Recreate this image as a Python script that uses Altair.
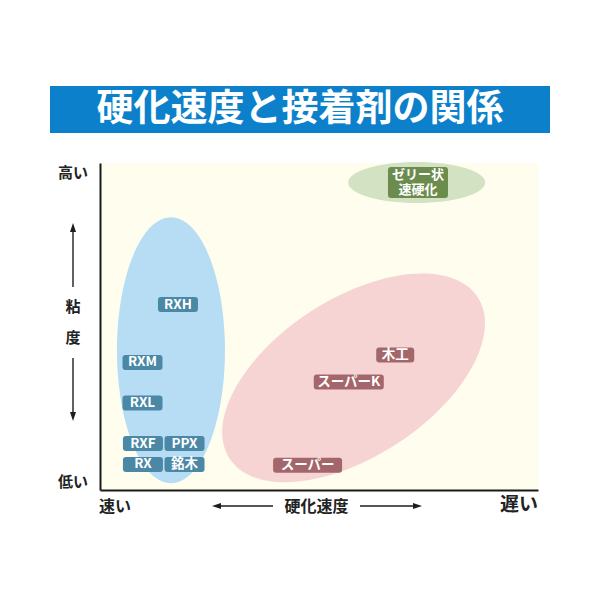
import altair as alt
import pandas as pd

# ---------------- data ----------------
LABELS = ["RXH", "RXM", "RXL", "RXF", "PPX", "RX", "銘木",
          "木工", "スーパーK", "スーパー", "ゼリー状\n速硬化"]
# 硬化速度 (0 = 速い, 100 = 遅い)
SPEED = [17.8, 9.7, 9.7, 9.8, 19.3, 9.8, 19.3, 67.4, 56.8, 47.4, 72.6]
# 粘度 (0 = 低い, 100 = 高い)
VISC = [56.7, 39.0, 26.6, 14.2, 14.2, 7.8, 7.8, 41.3, 33.0, 7.6, 94.0]
GROUP = ["blue"] * 7 + ["pink"] * 3 + ["green"]

GROUP_NAMES = ["blue", "pink", "green"]
GROUP_SPEED = [16.2, 57.9, 72.3]
GROUP_VISC = [42.7, 34.3, 94.0]

TITLE = "硬化速度と接着剤の関係"

# ---------------- styles ----------------
FONT = "Noto Sans CJK JP"
W, H = 438, 327
ELLIPSE_STYLE = {  # rx, ry (px), angle, fill
    "blue": (54, 133, 0, "#b7ddf4"),
    "pink": (148, 79, 327, "#f7d4d4"),
    "green": (68.5, 20.5, 0, "#d2e2c2"),
}
BOX_COLOR = {"blue": "#4a88a6", "pink": "#a3666b", "green": "#6b8c4d"}
BOX_SIZE = {"RXH": (40, 15), "RXM": (40, 15), "RXL": (40, 15), "RXF": (40, 15),
            "PPX": (40, 15), "RX": (40, 15), "銘木": (40, 15), "木工": (38, 15),
            "スーパーK": (70, 15), "スーパー": (69, 15), "ゼリー状\n速硬化": (60, 31)}

df = pd.DataFrame({"label": LABELS, "speed": SPEED, "visc": VISC, "group": GROUP})
gdf = pd.DataFrame({"group": GROUP_NAMES, "speed": GROUP_SPEED, "visc": GROUP_VISC})


def ellipse_path(rx, ry):
    k = 0.5523
    return (f"M{rx},0 C{rx},{k*ry} {k*rx},{ry} 0,{ry} "
            f"C{-k*rx},{ry} {-rx},{k*ry} {-rx},0 "
            f"C{-rx},{-k*ry} {-k*rx},{-ry} 0,{-ry} "
            f"C{k*rx},{-ry} {rx},{-k*ry} {rx},0 Z")


def rrect_path(w, h, r=3):
    hw, hh = w / 2, h / 2
    return (f"M{-hw+r},{-hh} H{hw-r} Q{hw},{-hh} {hw},{-hh+r} V{hh-r} "
            f"Q{hw},{hh} {hw-r},{hh} H{-hw+r} Q{-hw},{hh} {-hw},{hh-r} "
            f"V{-hh+r} Q{-hw},{-hh} {-hw+r},{-hh} Z")


axis_style = dict(title=None, labels=False, ticks=False, grid=False,
                  domainColor="#1a1a1a", domainWidth=2, zindex=1)
x_enc = alt.X("speed:Q", scale=alt.Scale(domain=[0, 100], nice=False, zero=False),
              axis=alt.Axis(**axis_style))
y_enc = alt.Y("visc:Q", scale=alt.Scale(domain=[0, 100], nice=False, zero=False),
              axis=alt.Axis(**axis_style))

BLANK = alt.Data(values=[{}])


def deco_text(t, x, y, size, weight="bold", color="#222222"):
    return alt.Chart(BLANK).mark_text(
        text=t, fontSize=size, font=FONT, fontWeight=weight, color=color,
        align="center", baseline="middle"
    ).encode(x=alt.value(x), y=alt.value(y))


def rule(x1, y1, x2, y2):
    return alt.Chart(BLANK).mark_rule(color="#1e1e1e", strokeWidth=1.4).encode(
        x=alt.value(x1), x2=alt.value(x2), y=alt.value(y1), y2=alt.value(y2))


def head(path, x, y):
    return alt.Chart(BLANK).mark_point(
        shape=path, size=4, filled=True, color="#1e1e1e", opacity=1
    ).encode(x=alt.value(x), y=alt.value(y))


layers = []
# title band
layers.append(alt.Chart(BLANK).mark_rect(color="#0c80ca").encode(
    x=alt.value(-50), x2=alt.value(450), y=alt.value(-77), y2=alt.value(-30)))
layers.append(deco_text(TITLE, 200, -53, 37, "bold", "white"))

# group ellipses
for g in GROUP_NAMES:
    rx, ry, ang, col = ELLIPSE_STYLE[g]
    layers.append(
        alt.Chart(gdf).transform_filter(alt.FieldEqualPredicate(field="group", equal=g))
        .mark_point(shape=ellipse_path(rx, ry), size=4, filled=True, color=col,
                    opacity=1, angle=ang)
        .encode(x=x_enc, y=y_enc)
    )

# label boxes
for lab, g in zip(LABELS, GROUP):
    w, h = BOX_SIZE[lab]
    layers.append(
        alt.Chart(df).transform_filter(alt.FieldEqualPredicate(field="label", equal=lab))
        .mark_point(shape=rrect_path(w, h), size=4, filled=True, color=BOX_COLOR[g], opacity=1)
        .encode(x=x_enc, y=y_enc)
    )

# label texts (single-line)
layers.append(
    alt.Chart(df).transform_filter("indexof(datum.label, '\\n') < 0")
    .mark_text(color="white", font=FONT, fontSize=13.5, fontWeight="bold",
               baseline="middle")
    .encode(x=x_enc, y=y_enc, text="label:N")
)
# label texts (two-line)
layers.append(
    alt.Chart(df).transform_filter("indexof(datum.label, '\\n') >= 0")
    .mark_text(color="white", font=FONT, fontSize=13, fontWeight="bold",
               lineBreak="\n", lineHeight=15, baseline="middle", dy=-7.5)
    .encode(x=x_enc, y=y_enc, text="label:N")
)

# axis annotations
layers += [
    deco_text("高い", -27, 10, 15),
    deco_text("粘", -27, 144, 15),
    deco_text("度", -27, 175, 15),
    deco_text("低い", -27, 319, 15),
    deco_text("速い", 15, 344, 16),
    deco_text("硬化速度", 216.5, 344, 16),
    deco_text("遅い", 419, 342, 19),
    rule(-27, 66, -27, 124),
    head("M0,0 L3,9 L-3,9 Z", -27, 60),
    rule(-27, 195, -27, 252),
    head("M0,0 L3,-9 L-3,-9 Z", -27, 258),
    rule(118, 343, 173, 343),
    head("M0,0 L9,-3 L9,3 Z", 112, 343),
    rule(260, 343, 316, 343),
    head("M0,0 L-9,-3 L-9,3 Z", 322, 343),
]

chart = alt.layer(*layers).properties(
    width=W, height=H,
    autosize=alt.AutoSizeParams(type="none"),
    padding={"left": 92, "top": 155, "right": 40, "bottom": 60},
    background="white",
).configure_view(fill="#fffdee", stroke=None)

chart.save("out.html", embed_options={"renderer": "svg", "actions": False})
